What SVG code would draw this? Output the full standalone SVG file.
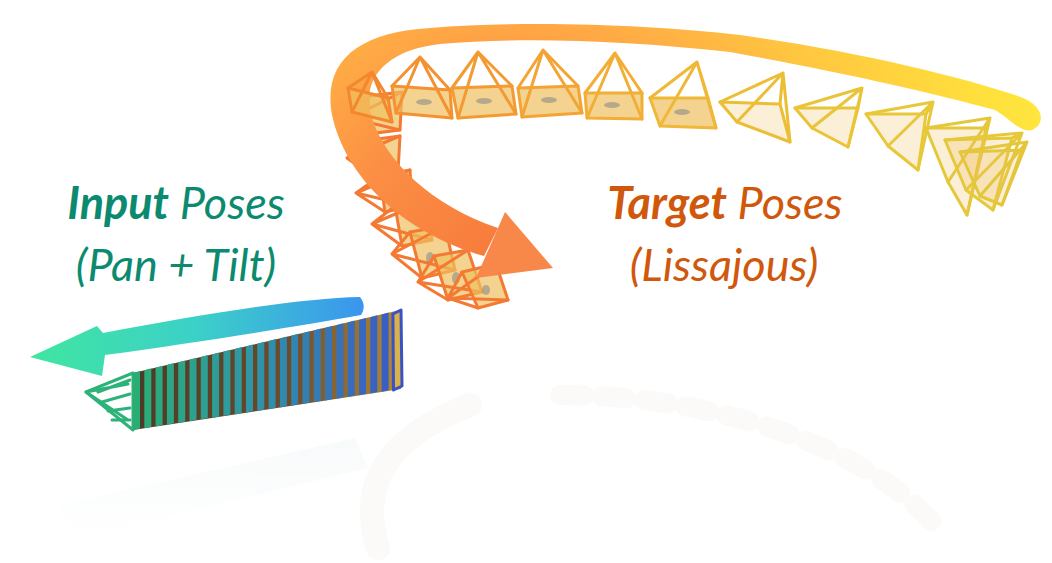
<svg xmlns="http://www.w3.org/2000/svg" width="1052" height="563" viewBox="0 0 1052 563">
<defs>
<radialGradient id="bandGrad" gradientUnits="userSpaceOnUse" cx="500" cy="260" r="600">
<stop offset="0" stop-color="#f77a3c"/>
<stop offset="0.25" stop-color="#fb8e44"/>
<stop offset="0.4" stop-color="#ffa845"/>
<stop offset="0.6" stop-color="#ffc640"/>
<stop offset="0.85" stop-color="#ffe03c"/>
<stop offset="1" stop-color="#ffea40"/>
</radialGradient>
<linearGradient id="blueArrow" gradientUnits="userSpaceOnUse" x1="30" y1="0" x2="362" y2="0">
<stop offset="0" stop-color="#40e6a0"/>
<stop offset="0.5" stop-color="#3cd0c8"/>
<stop offset="1" stop-color="#3a96ee"/>
</linearGradient>
<linearGradient id="stackGrad" gradientUnits="userSpaceOnUse" x1="130" y1="0" x2="400" y2="0">
<stop offset="0" stop-color="#2aae72"/>
<stop offset="0.45" stop-color="#2f96a8"/>
<stop offset="1" stop-color="#3a58c8"/>
</linearGradient>
<linearGradient id="stackBack" gradientUnits="userSpaceOnUse" x1="130" y1="0" x2="400" y2="0">
<stop offset="0" stop-color="#4a3a26"/>
<stop offset="0.6" stop-color="#6e4c2a"/>
<stop offset="1" stop-color="#b08a3a"/>
</linearGradient>
<linearGradient id="reflGrad" x1="0" y1="0" x2="0" y2="1">
<stop offset="0" stop-color="#d4e4e8" stop-opacity="0.5"/>
<stop offset="1" stop-color="#d4e4e8" stop-opacity="0"/>
</linearGradient>
</defs>
<style>
.bg{fill:#ffffff}
.pyr{fill:none;stroke-width:3;stroke-linejoin:round;stroke-linecap:round}
.img{fill:#eec060;fill-opacity:0.7}
.side{fill-opacity:0.25}
.speck{fill:#6d7588;fill-opacity:0.45;stroke:none}
.leftcol{stroke:#f47a33}
.frame{fill:url(#stackGrad)}
.lbl{font-family:Lato,"Open Sans","Liberation Sans",sans-serif;font-style:italic;font-size:45px}
.teal{fill:#0b8a70}
.orng{fill:#d0580c}
.refl{fill:none;stroke:#f4efea;stroke-linecap:round}
</style>
<rect class="bg" x="0" y="0" width="1052" height="563"/>

<g id="reflections" opacity="0.3">
<polygon points="60,505 355,438 368,468 75,540" fill="url(#reflGrad)"/>
<path class="refl" d="M 378 548 C 360 490 380 440 470 405" stroke-width="24"/>
<path class="refl" d="M 560 395 C 700 395 860 440 935 525" stroke-width="20" stroke-dasharray="24 18"/>
</g>

<g id="left-column">
<g id="l1" class="pyr leftcol"><polygon class="img" points="368,96 402,92 400,130 368,134"/><path d="M350 118 L368 96 M350 118 L402 92 M350 118 L400 130 M350 118 L368 134"/></g>
<g id="l2" class="pyr leftcol"><polygon class="img" points="370,140 400,136 398,172 372,176"/><path d="M347 158 L370 140 M347 158 L400 136 M347 158 L398 172 M347 158 L372 176"/></g>
<g id="l3" class="pyr leftcol"><polygon class="img" points="380,176 410,170 412,206 385,212"/><path d="M356 193 L380 176 M356 193 L410 170 M356 193 L412 206 M356 193 L385 212"/></g>
<g id="l4" class="pyr leftcol"><polygon class="img" points="395,206 428,200 432,240 402,246"/><path d="M372 224 L395 206 M372 224 L428 200 M372 224 L432 240 M372 224 L402 246"/></g>
<g id="l5" class="pyr leftcol"><polygon class="img" points="410,232 445,226 455,270 422,278"/><path d="M392 254 L410 232 M392 254 L445 226 M392 254 L455 270 M392 254 L422 278"/><ellipse class="speck" cx="430" cy="258" rx="4" ry="6"/></g>
<g id="l6" class="pyr leftcol"><polygon class="img" points="434,256 468,250 482,292 448,300"/><path d="M418 282 L434 256 M418 282 L468 250 M418 282 L482 292 M418 282 L448 300"/><ellipse class="speck" cx="456" cy="278" rx="4" ry="6"/></g>
<g id="l7" class="pyr leftcol"><polygon class="img" points="462,272 496,264 508,300 478,308"/><path d="M448 298 L462 272 M448 298 L496 264 M448 298 L508 300 M448 298 L478 308"/><ellipse class="speck" cx="486" cy="290" rx="4" ry="5"/></g>
</g>

<g id="connectors">
<path id="target-arrow" fill="url(#bandGrad)" d="M 484 256 C 400 232 345 175 332 115 C 322 60 360 32 430 28 C 530 20 650 25 740 35 C 850 50 960 76 1018 96 C 1045 105 1046 124 1032 130 C 1020 133 1012 120 995 110 C 930 92 840 72 730 52 C 620 40 520 37 440 44 C 385 50 360 80 372 118 C 385 160 430 205 498 228 Z"/>
<polygon id="target-arrowhead" fill="#f8874a" points="505,212 553,268 476,278"/>
<path id="input-arrow" fill="url(#blueArrow)" d="M 360 297 C 300 298 200 315 103 333 L 97 326 L 30 357 L 102 376 L 105 355 C 200 342 300 326 361 315 Q 367 306 360 297 Z"/>
</g>

<g id="top-row">
<g id="t1" class="pyr" stroke="#f3882f"><polygon class="img" points="348,88 388,98 392,122 352,112"/><path d="M372 72 L348 88 M372 72 L388 98 M372 72 L392 122 M372 72 L352 112"/></g>
<g id="t2" class="pyr" stroke="#f49232"><polygon class="img" points="392,86 450,90 452,118 396,113"/><path d="M420 57 L392 86 M420 57 L450 90 M420 57 L452 118 M420 57 L396 113"/><ellipse class="speck" cx="424" cy="102" rx="8" ry="3"/></g>
<g id="t3" class="pyr" stroke="#f49a33"><polygon class="img" points="452,88 512,86 516,114 458,118"/><path d="M478 52 L452 88 M478 52 L512 86 M478 52 L516 114 M478 52 L458 118"/><ellipse class="speck" cx="484" cy="101" rx="8" ry="3"/></g>
<g id="t4" class="pyr" stroke="#f3a434"><polygon class="img" points="518,88 578,86 582,113 522,117"/><path d="M543 50 L518 88 M543 50 L578 86 M543 50 L582 113 M543 50 L522 117"/><ellipse class="speck" cx="549" cy="100" rx="8" ry="3"/></g>
<g id="t5" class="pyr" stroke="#f2ae35"><polygon class="img" points="585,93 642,93 642,119 587,118"/><path d="M615 53 L585 93 M615 53 L642 93 M615 53 L642 119 M615 53 L587 118"/><ellipse class="speck" cx="612" cy="105" rx="8" ry="3"/></g>
<g id="t6" class="pyr" stroke="#efb836"><polygon class="img" points="650,98 708,98 716,128 660,126"/><path d="M697 62 L650 98 M697 62 L708 98 M697 62 L716 128 M697 62 L660 126"/><ellipse class="speck" cx="682" cy="112" rx="8" ry="3"/></g>
<g id="t7" class="pyr" stroke="#ecbe35"><polygon class="img side" points="720,102 780,104 790,142 737,122"/><path d="M783 73 L720 102 M783 73 L780 104 M783 73 L790 142 M783 73 L737 122"/></g>
<g id="t8" class="pyr" stroke="#eac436"><polygon class="img side" points="795,108 858,108 848,147 812,128"/><path d="M862 88 L795 108 M862 88 L858 108 M862 88 L848 147 M862 88 L812 128"/></g>
<g id="t9" class="pyr" stroke="#e8c838"><polygon class="img side" points="866,114 926,114 918,170 888,146"/><path d="M933 102 L866 114 M933 102 L926 114 M933 102 L918 170 M933 102 L888 146"/></g>
<g id="c1" class="pyr" stroke="#e5c83a"><polygon class="img side" points="926,128 986,128 967,215 948,182"/><path d="M990 118 L926 128 M990 118 L986 128 M990 118 L967 215 M990 118 L948 182"/></g>
<g id="c2" class="pyr" stroke="#e5c93a"><polygon class="img side" points="945,140 1012,138 993,210 966,190"/><path d="M1022 133 L945 140 M1022 133 L1012 138 M1022 133 L993 210 M1022 133 L966 190"/></g>
<g id="c3" class="pyr" stroke="#e3c63a"><polygon class="img side" points="960,152 1022,150 1002,205 980,196"/><path d="M1027 142 L960 152 M1027 142 L1022 150 M1027 142 L1002 205 M1027 142 L980 196"/></g>
</g>

<g id="input-stack">
<polygon points="133,373 400,310 401,389 133,430" fill="url(#stackBack)"/>
<g id="green-pyramid" class="pyr" stroke="#2db37a">
<polygon points="86,392 133,373 133,430"/>
<path d="M86 392 L128 384 M86 392 L128 420 M98 392 L130 380 M102 402 L130 394 M108 411 L130 408 M112 420 L130 420"/>
</g>
<g id="frames">
<polygon class="frame" points="133,373 140,371 140,428.5 133,430"/>
<polygon class="frame" points="144.3,370.3 151.3,368.3 151.3,426.8 144.3,428.3"/>
<polygon class="frame" points="155.6,367.7 162.6,365.7 162.6,425 155.6,426.5"/>
<polygon class="frame" points="166.9,365 173.9,363 173.9,423.3 166.9,424.8"/>
<polygon class="frame" points="178.2,362.4 185.2,360.4 185.2,421.5 178.2,423"/>
<polygon class="frame" points="189.5,359.7 196.5,357.7 196.5,419.8 189.5,421.3"/>
<polygon class="frame" points="200.8,357 207.8,355 207.8,418.1 200.8,419.6"/>
<polygon class="frame" points="212.1,354.4 219.1,352.4 219.1,416.4 212.1,417.9"/>
<polygon class="frame" points="223.4,351.7 230.4,349.7 230.4,414.6 223.4,416.1"/>
<polygon class="frame" points="234.7,349.1 241.7,347.1 241.7,412.9 234.7,414.4"/>
<polygon class="frame" points="246,346.4 253,344.4 253,411.1 246,412.6"/>
<polygon class="frame" points="257.3,343.7 264.3,341.7 264.3,409.4 257.3,410.9"/>
<polygon class="frame" points="268.6,341.1 275.6,339.1 275.6,407.7 268.6,409.2"/>
<polygon class="frame" points="279.9,338.4 286.9,336.4 286.9,405.9 279.9,407.4"/>
<polygon class="frame" points="291.2,335.8 298.2,333.8 298.2,404.2 291.2,405.7"/>
<polygon class="frame" points="302.5,333.2 309.5,331.2 309.5,402.4 302.5,403.9"/>
<polygon class="frame" points="313.8,330.5 320.8,328.5 320.8,400.7 313.8,402.2"/>
<polygon class="frame" points="325.1,327.9 332.1,325.9 332.1,398.9 325.1,400.4"/>
<polygon class="frame" points="336.4,325.2 343.4,323.2 343.4,397.2 336.4,398.7"/>
<polygon class="frame" points="347.7,322.5 354.7,320.5 354.7,395.4 347.7,396.9"/>
<polygon class="frame" points="359,319.9 366,317.9 366,393.7 359,395.2"/>
<polygon class="frame" points="370.3,317.2 377.3,315.2 377.3,392 370.3,393.5"/>
<polygon class="frame" points="381.6,314.6 388.6,312.6 388.6,390.2 381.6,391.7"/>
<polygon points="392.9,314 401,310 402,386 393.5,390" fill="#d9b24a" stroke="#3a52c4" stroke-width="3" stroke-linejoin="round"/>
</g>
</g>

<g id="input-label">
<text class="lbl teal" x="176" y="219" text-anchor="middle"><tspan font-weight="700">Input</tspan> Poses</text>
<text class="lbl teal" x="176" y="281" text-anchor="middle">(Pan + Tilt)</text>
</g>
<g id="target-label">
<text class="lbl orng" x="725" y="219" text-anchor="middle"><tspan font-weight="700">Target</tspan> Poses</text>
<text class="lbl orng" x="724" y="281" text-anchor="middle">(Lissajous)</text>
</g>
</svg>
